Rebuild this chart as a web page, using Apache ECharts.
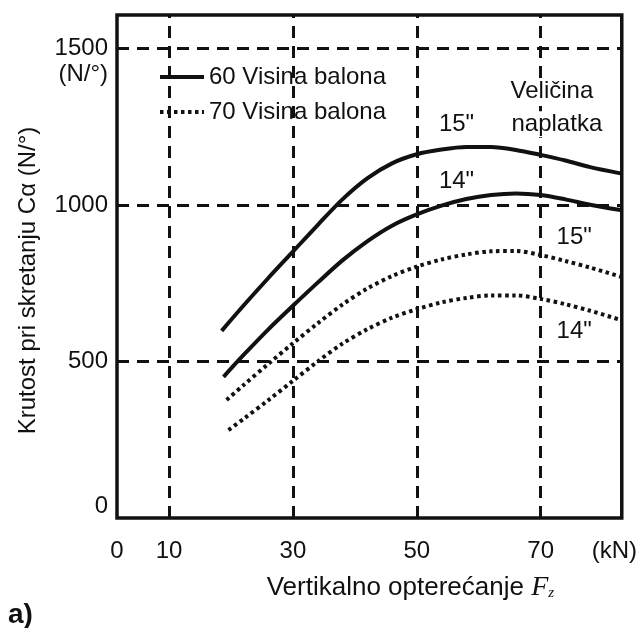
<!DOCTYPE html>
<html>
<head>
<meta charset="utf-8">
<title>Krutost pri skretanju</title>
<script src="https://cdn.jsdelivr.net/npm/echarts@6/dist/echarts.min.js"></script>
<style>
  html, body { margin: 0; padding: 0; background: #fff; }
  #main { width: 640px; height: 628px; }
</style>
</head>
<body>
<div id="main"></div>
<script>
// ocitano sa slike: [Fz (kN), C alfa (N/°)]
var solid15 = [[18.5, 598], [22, 678], [26, 766], [30, 851], [34, 936], [38, 1018], [42, 1085], [46, 1133], [50, 1162], [54, 1177], [58, 1185], [62, 1185], [66, 1176], [70, 1160], [74, 1142], [78, 1121], [82.9, 1101]];
var solid14 = [[18.8, 451], [22, 520], [26, 602], [30, 678], [34, 752], [38, 823], [42, 884], [46, 934], [50, 970], [54, 998], [58, 1019], [62, 1032], [66, 1037], [70, 1032], [74, 1018], [78, 1001], [82.9, 984]];
var dotted15 = [[19.3, 377], [22, 424], [26, 492], [30, 558], [34, 622], [38, 682], [42, 733], [46, 773], [50, 803], [54, 826], [58, 842], [62, 852], [66, 853], [70, 840], [74, 821], [78, 800], [82.9, 771]];
var dotted14 = [[19.6, 281], [22, 316], [26, 376], [30, 438], [34, 500], [38, 557], [42, 603], [46, 640], [50, 667], [54, 689], [58, 703], [62, 711], [66, 711], [70, 700], [74, 683], [78, 662], [82.9, 633]];

var seriesNames = ['60 Visina balona', '70 Visina balona'];

var xTickValues = [1.6, 10, 30, 50, 70, 81.9];
var xTickLabels = ['0', '10', '30', '50', '70', '(kN)'];
var yTickValues = [0, 500, 1000, 1500];
var xGridValues = [10, 30, 50, 70];
var yGridValues = [500, 1000, 1500];

// natpisi unutar grafa
var annoText = ['15"', '14"', '15"', '14"', 'Veličina', 'naplatka'];
var annoX = [56.5, 56.5, 75.5, 75.5, 71.9, 72.7];
var annoY = [1256, 1073, 895, 594, 1361, 1256];

var FONT = '"Liberation Sans", Arial, Helvetica, sans-serif';
var INK = '#111';

var chart = echarts.init(document.getElementById('main'));

var gridMarks = [];
xGridValues.forEach(function (v) { gridMarks.push({ xAxis: v }); });
yGridValues.forEach(function (v) { gridMarks.push({ yAxis: v }); });

var annoData = annoText.map(function (t, i) {
    return { name: t, value: [annoX[i], annoY[i]] };
});

var solidStyle = { color: INK, width: 4 };
var dotStyle = { color: INK, width: 4, type: [3.5, 3.5] };

var option = {
    animation: false,
    backgroundColor: '#fff',
    grid: {
        left: 117,
        right: 18,
        top: 15,
        bottom: 110,
        show: true,
        borderColor: INK,
        borderWidth: 3.5,
        backgroundColor: 'transparent'
    },
    legend: {
        data: seriesNames,
        orient: 'vertical',
        left: 158,
        top: 65,
        padding: 0,
        itemWidth: 44,
        itemHeight: 24,
        itemGap: 11,
        selectedMode: false,
        itemStyle: { color: 'rgba(0,0,0,0)', borderColor: 'rgba(0,0,0,0)', borderWidth: 0 },
        lineStyle: { width: 4 },
        textStyle: { fontSize: 24, color: INK, fontFamily: FONT }
    },
    xAxis: {
        type: 'value',
        min: 1.6,
        max: 83.1,
        axisLine: { show: false },
        axisTick: { show: false },
        splitLine: { show: false },
        axisLabel: {
            customValues: xTickValues,
            fontSize: 24,
            color: INK,
            fontFamily: FONT,
            margin: 21,
            formatter: function (v) {
                var i = xTickValues.indexOf(v);
                return i >= 0 ? xTickLabels[i] : '';
            }
        },
        name: 'Vertikalno opterećanje {f|F}{s|z}',
        nameLocation: 'middle',
        nameGap: 56,
        nameTextStyle: {
            fontSize: 26,
            color: INK,
            fontFamily: FONT,
            padding: [0, 0, 0, 82],
            rich: {
                f: { fontSize: 28, fontStyle: 'italic', fontFamily: '"Liberation Serif", "DejaVu Serif", serif', color: INK },
                s: { fontSize: 15, fontStyle: 'italic', fontFamily: '"Liberation Serif", "DejaVu Serif", serif', color: INK, padding: [10, 0, 0, 0] }
            }
        }
    },
    yAxis: {
        type: 'value',
        min: 0,
        max: 1607,
        axisLine: { show: false },
        axisTick: { show: false },
        splitLine: { show: false },
        axisLabel: {
            customValues: yTickValues,
            fontSize: 24,
            color: INK,
            fontFamily: FONT,
            margin: 9,
            verticalAlignMinLabel: 'bottom',
            formatter: function (v) { return String(v); }
        },
        name: 'Krutost pri skretanju Cα (N/°)',
        nameLocation: 'middle',
        nameRotate: 90,
        nameGap: 77,
        nameTextStyle: { fontSize: 24, color: INK, fontFamily: FONT, padding: [0, 28, 0, 0] }
    },
    graphic: [
        {
            type: 'text',
            style: { text: '(N/°)', x: 108, y: 74, align: 'right', verticalAlign: 'middle', font: '24px ' + FONT, fill: INK }
        },
        {
            type: 'text',
            style: { text: 'a)', x: 8, y: 615, verticalAlign: 'middle', font: 'bold 28px ' + FONT, fill: INK }
        }
    ],
    series: [
        {
            name: 'mreza',
            type: 'line',
            data: [],
            z: 1,
            silent: true,
            markLine: {
                silent: true,
                symbol: 'none',
                label: { show: false },
                lineStyle: { color: INK, width: 3, type: [12, 8] },
                data: gridMarks
            }
        },
        { name: seriesNames[0], type: 'line', data: solid15, smooth: 0.3, symbol: 'none', lineStyle: solidStyle, itemStyle: { color: INK }, z: 3 },
        { name: seriesNames[0], type: 'line', data: solid14, smooth: 0.3, symbol: 'none', lineStyle: solidStyle, itemStyle: { color: INK }, z: 3 },
        { name: seriesNames[1], type: 'line', data: dotted15, smooth: 0.3, symbol: 'none', lineStyle: dotStyle, itemStyle: { color: INK }, z: 3 },
        { name: seriesNames[1], type: 'line', data: dotted14, smooth: 0.3, symbol: 'none', lineStyle: dotStyle, itemStyle: { color: INK }, z: 3 },
        {
            name: 'natpisi',
            type: 'scatter',
            data: annoData,
            symbolSize: 1,
            itemStyle: { color: '#fff', opacity: 1 },
            silent: true,
            z: 5,
            label: {
                show: true,
                position: [0, 0],
                align: 'center',
                verticalAlign: 'middle',
                formatter: '{b}',
                fontSize: 24,
                color: INK,
                opacity: 1,
                fontFamily: FONT,
                textBorderWidth: 0,
                backgroundColor: '#fff',
                padding: [1, 2]
            }
        }
    ]
};

chart.setOption(option);
</script>
</body>
</html>
